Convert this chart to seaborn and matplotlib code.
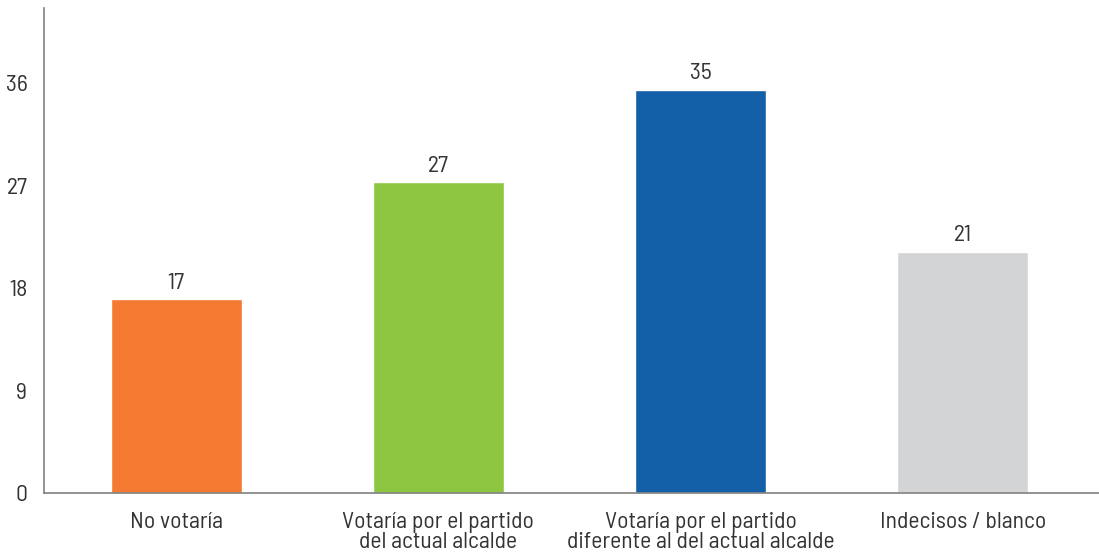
import matplotlib
matplotlib.use("Agg")
import matplotlib.pyplot as plt
import seaborn as sns

categories = ["No votaría",
              "Votaría por el partido\ndel actual alcalde",
              "Votaría por el partido\ndiferente al del actual alcalde",
              "Indecisos / blanco"]
values = [17.0, 27.3, 35.4, 21.2]
labels = ["17", "27", "35", "21"]
colors = ["#F37A30", "#8DC641", "#135FA8", "#D3D4D6"]
yticks = [0, 9, 18, 27, 36]

sns.set_style("white")
plt.rcParams["font.family"] = ["Barlow Semi Condensed", "DejaVu Sans"]
plt.rcParams["font.weight"] = 400

fig = plt.figure(figsize=(10.99, 5.58), dpi=100)
ax = fig.add_axes([0.040, 0.1165, 0.96, 0.869])

sns.barplot(x=categories, y=values, hue=categories, palette=colors,
            width=0.5, legend=False, ax=ax, saturation=1)

# value labels above the bars
for i, v in enumerate(values):
    ax.text(i, v + 0.5, labels[i], ha="center", va="bottom", fontsize=17,
            color="#333333")

ax.set_xlim(-0.504, 3.52)
ax.set_ylim(0, 42.6)
ax.set_yticks(yticks)
ax.tick_params(axis="both", length=0, labelsize=17, colors="#333333")
ax.tick_params(axis="x", pad=14)
ax.tick_params(axis="y", pad=12)
for lbl in ax.get_xticklabels():
    lbl.set_linespacing(0.88)
ax.spines["top"].set_visible(False)
ax.spines["right"].set_visible(False)
for s in ["left", "bottom"]:
    ax.spines[s].set_color("#808080")
    ax.spines[s].set_linewidth(1.2)
ax.set_xlabel("")
ax.set_ylabel("")

fig.savefig("out.png", dpi=100)
